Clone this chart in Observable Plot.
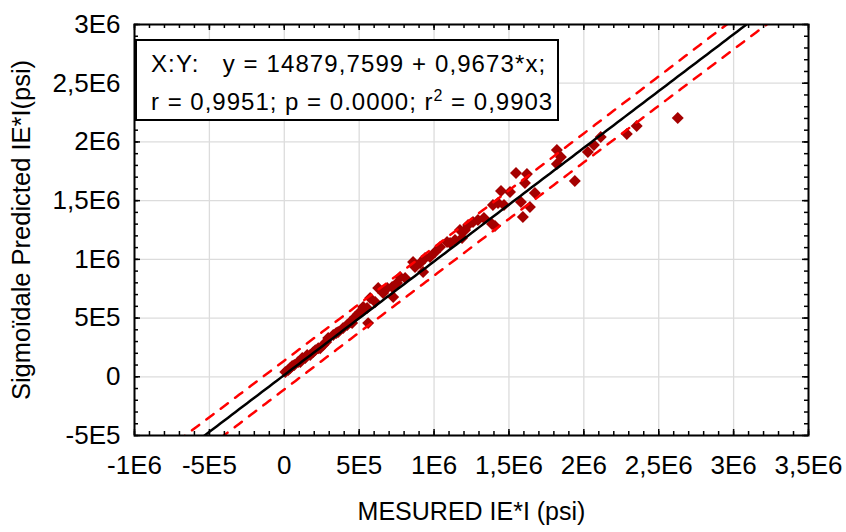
<!DOCTYPE html>
<html>
<head>
<meta charset="utf-8">
<script src="https://cdn.jsdelivr.net/npm/d3@7"></script>
<script src="https://cdn.jsdelivr.net/npm/@observablehq/plot@0.6"></script>
<style>
  html, body { margin: 0; padding: 0; background: #fff; }
  #chart { width: 846px; height: 532px; }
  #chart svg { font-family: "Liberation Sans", Arial, sans-serif; }
</style>
</head>
<body>
<div id="chart"></div>
<script>
// Measured IE*I against the sigmoidal model's predicted IE*I (psi)
const measured = [
  7e3, 27e3, 40e3, 53e3, 67e3, 93e3, 107e3, 120e3, 140e3, 153e3,
  173e3, 193e3, 207e3, 227e3, 240e3, 260e3, 280e3, 293e3, 327e3, 347e3,
  360e3, 393e3, 420e3, 440e3, 453e3, 473e3, 493e3, 507e3, 527e3, 560e3,
  553e3, 573e3, 607e3, 627e3, 660e3, 687e3, 720e3, 727e3, 753e3, 773e3,
  807e3, 860e3, 873e3, 907e3, 927e3, 940e3, 973e3, 1007e3, 1040e3, 1087e3,
  1107e3, 1140e3, 1187e3, 1207e3, 1173e3, 1227e3, 1260e3, 1293e3, 1333e3, 1387e3,
  1407e3, 1393e3, 1427e3, 1467e3, 1447e3, 1507e3, 1547e3, 1620e3, 1607e3, 1673e3,
  1580e3, 1640e3, 1593e3, 1820e3, 1847e3, 1820e3, 1940e3, 2027e3, 2067e3, 2113e3,
  2287e3, 2353e3, 2627e3
];
const predicted = [
  40e3, 57e3, 74e3, 91e3, 100e3, 125e3, 125e3, 159e3, 159e3, 185e3,
  185e3, 210e3, 227e3, 244e3, 244e3, 270e3, 296e3, 330e3, 355e3, 372e3,
  381e3, 415e3, 440e3, 466e3, 457e3, 509e3, 534e3, 551e3, 594e3, 457e3,
  585e3, 670e3, 636e3, 756e3, 713e3, 756e3, 764e3, 679e3, 798e3, 849e3,
  841e3, 977e3, 934e3, 968e3, 892e3, 1011e3, 1020e3, 1062e3, 1105e3, 1147e3,
  1139e3, 1164e3, 1181e3, 1250e3, 1250e3, 1292e3, 1318e3, 1335e3, 1352e3, 1301e3,
  1284e3, 1462e3, 1480e3, 1462e3, 1582e3, 1573e3, 1735e3, 1727e3, 1650e3, 1565e3,
  1488e3, 1446e3, 1360e3, 1931e3, 1872e3, 1812e3, 1667e3, 1914e3, 1974e3, 2042e3,
  2067e3, 2136e3, 2204e3
];

// Axis ticks
const xTicks = [-1e6, -5e5, 0, 5e5, 1e6, 1.5e6, 2e6, 2.5e6, 3e6, 3.5e6];
const yTicks = [-5e5, 0, 5e5, 1e6, 1.5e6, 2e6, 2.5e6, 3e6];
const minorStep = 1e5;

// Fitted line y = a + b*x and its statistics
const intercept = 14879.7599;
const slope = 0.9673;
const rValue = 0.9951;
const pValue = 0.0000;
const r2Value = 0.9903;

const points = measured.map((x, i) => ({x, y: predicted[i]}));

// 95 % prediction band around the fitted line
const n = points.length;
const meanX = d3.mean(measured);
const meanY = d3.mean(predicted);
const Sxx = d3.sum(measured, (x) => (x - meanX) ** 2);
const Syy = d3.sum(predicted, (y) => (y - meanY) ** 2);
const sRes = Math.sqrt((1 - r2Value) * Syy / (n - 2));
const tCrit = 1.99;
const xDomain = [xTicks[0], xTicks[xTicks.length - 1]];
const yDomain = [yTicks[0], yTicks[yTicks.length - 1]];
const band = d3.range(xDomain[0], xDomain[1] + 1, 2.5e4).map((x) => {
  const fitY = intercept + slope * x;
  const h = tCrit * sRes * Math.sqrt(1 + 1 / n + (x - meanX) ** 2 / Sxx);
  return {x, fit: fitY, lo: fitY - h, hi: fitY + h};
});

// Minor tick positions
const xMinor = d3.range(xDomain[0], xDomain[1] + 1, minorStep);
const yMinor = d3.range(yDomain[0], yDomain[1] + 1, minorStep);

// "1,5E6" style labels
function sciLabel(v) {
  if (v === 0) return "0";
  const e = Math.floor(Math.log10(Math.abs(v)) + 1e-9);
  const m = +(v / 10 ** e).toFixed(3);
  return `${String(m).replace(".", ",")}E${e}`;
}

const W = 846, H = 532;
const mTop = 24, mRight = 38, mBottom = 97, mLeft = 134;
const innerW = W - mLeft - mRight;
const innerH = H - mTop - mBottom;
const majorLen = 6, minorLen = 4;
const tickFont = 26;

const chart = Plot.plot({
  width: W,
  height: H,
  marginTop: mTop,
  marginRight: mRight,
  marginBottom: mBottom,
  marginLeft: mLeft,
  style: {fontFamily: "'Liberation Sans', Arial, sans-serif", background: "#fff"},
  x: {domain: xDomain},
  y: {domain: yDomain},
  marks: [
    Plot.gridX(xTicks, {stroke: "#dcdcdc", strokeOpacity: 1, strokeWidth: 1.3}),
    Plot.gridY(yTicks, {stroke: "#dcdcdc", strokeOpacity: 1, strokeWidth: 1.3}),
    Plot.dot(points, {x: "x", y: "y", symbol: "diamond2", r: 5.4, fill: "#a50000", stroke: "none"}),
    Plot.line(band, {x: "x", y: "hi", stroke: "#ff0000", strokeWidth: 2.5, strokeDasharray: "9,9", strokeLinecap: "round", clip: true}),
    Plot.line(band, {x: "x", y: "lo", stroke: "#ff0000", strokeWidth: 2.5, strokeDasharray: "9,9", strokeLinecap: "round", clip: true}),
    Plot.line(band, {x: "x", y: "fit", stroke: "#000", strokeWidth: 2.5, clip: true}),
    // inward ticks on all four sides
    Plot.tickX(xTicks, {x: (d) => d, insetTop: innerH - majorLen, stroke: "#000", strokeWidth: 1.5}),
    Plot.tickX(xMinor, {x: (d) => d, insetTop: innerH - minorLen, stroke: "#000", strokeWidth: 1.5}),
    Plot.tickX(xTicks, {x: (d) => d, insetBottom: innerH - majorLen, stroke: "#000", strokeWidth: 1.5}),
    Plot.tickX(xMinor, {x: (d) => d, insetBottom: innerH - minorLen, stroke: "#000", strokeWidth: 1.5}),
    Plot.tickY(yTicks, {y: (d) => d, insetRight: innerW - majorLen, stroke: "#000", strokeWidth: 1.5}),
    Plot.tickY(yMinor, {y: (d) => d, insetRight: innerW - minorLen, stroke: "#000", strokeWidth: 1.5}),
    Plot.tickY(yTicks, {y: (d) => d, insetLeft: innerW - majorLen, stroke: "#000", strokeWidth: 1.5}),
    Plot.tickY(yMinor, {y: (d) => d, insetLeft: innerW - minorLen, stroke: "#000", strokeWidth: 1.5}),
    Plot.frame({stroke: "#000", strokeWidth: 2}),
    Plot.axisX(xTicks, {tickSize: 0, tickPadding: 20, tickFormat: sciLabel, fontSize: tickFont, fill: "#000", label: null}),
    Plot.axisY(yTicks, {tickSize: 0, tickPadding: 14, tickFormat: sciLabel, fontSize: tickFont, fill: "#000", label: null}),
    Plot.text(["MESURED IE*I (psi)"], {frameAnchor: "bottom", dy: 84, fontSize: 25, fill: "#000"}),
    Plot.text(["Sigmoïdale Predicted IE*I(psi)"], {frameAnchor: "left", textAnchor: "middle", dx: -113, rotate: -90, fontSize: 25.5, fill: "#000"})
  ]
});

document.getElementById("chart").appendChild(chart);

// Regression summary box in the upper-left corner of the frame
const svg = d3.select(chart);
const box = svg.append("g")
  .attr("transform", `translate(${mLeft + 2},${mTop + 16})`)
  .attr("text-anchor", "start");
box.append("rect")
  .attr("width", 422).attr("height", 80)
  .attr("fill", "#fff").attr("stroke", "#000").attr("stroke-width", 2);
const comma = (v, d) => v.toFixed(d).replace(".", ",");
box.append("text")
  .attr("x", 15).attr("y", 32)
  .attr("font-size", 24).attr("letter-spacing", 1.1).attr("fill", "#000")
  .style("white-space", "pre")
  .text(`X:Y:   y = ${comma(intercept, 4)} + ${comma(slope, 4)}*x;`);
const line2 = box.append("text")
  .attr("x", 15).attr("y", 70)
  .attr("font-size", 24).attr("letter-spacing", 1.0).attr("fill", "#000");
line2.append("tspan").text(`r = ${comma(rValue, 4)}; p = ${pValue.toFixed(4)}; r`);
line2.append("tspan").attr("dy", -9).attr("font-size", 16).text("2");
line2.append("tspan").attr("dy", 9).text(` = ${comma(r2Value, 4)}`);
</script>
</body>
</html>
